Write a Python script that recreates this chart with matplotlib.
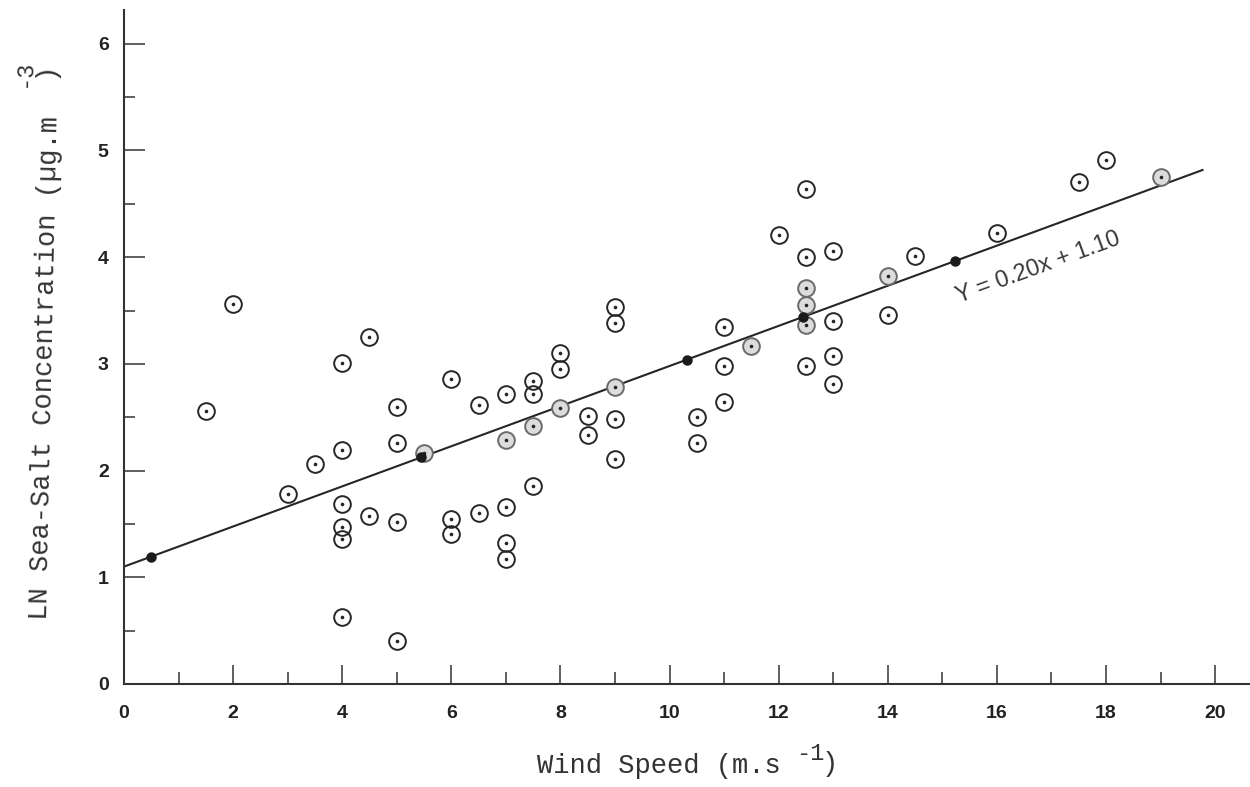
import numpy as np
import matplotlib.pyplot as plt

# wind speed (m/s) and LN sea-salt concentration
wind_open = [1.5, 2.0, 3.0, 3.5, 4.0, 4.0, 4.0, 4.0, 4.0, 4.0, 4.5, 4.5,
             5.0, 5.0, 5.0, 5.0, 6.0, 6.0, 6.0, 6.5, 6.5, 7.0, 7.0, 7.0, 7.0,
             7.5, 7.5, 7.5, 8.0, 8.0, 8.5, 8.5, 9.0, 9.0, 9.0, 9.0, 10.5, 10.5,
             11.0, 11.0, 11.0, 12.0, 12.5, 12.5, 12.5, 13.0, 13.0, 13.0, 13.0,
             14.0, 14.5, 16.0, 17.5, 18.0]
conc_open = [2.56, 3.56, 1.78, 2.06, 3.01, 2.19, 1.69, 1.47, 1.36, 0.63, 3.25, 1.57,
             2.60, 2.26, 1.52, 0.40, 2.86, 1.55, 1.41, 2.61, 1.60, 2.72, 1.66, 1.32, 1.17,
             2.84, 2.72, 1.86, 3.10, 2.95, 2.51, 2.33, 3.53, 3.38, 2.48, 2.11, 2.50, 2.26,
             3.35, 2.98, 2.64, 4.21, 4.64, 4.00, 2.98, 4.06, 3.40, 3.07, 2.81,
             3.46, 4.01, 4.23, 4.70, 4.91]

# circles that sit on the regression line (greyed in the scan)
wind_shaded = [5.5, 7.0, 7.5, 8.0, 9.0, 11.5, 12.5, 12.5, 12.5, 14.0, 19.0]
conc_shaded = [2.16, 2.29, 2.42, 2.59, 2.78, 3.17, 3.71, 3.55, 3.36, 3.82, 4.75]

# filled dots along the fitted line
wind_fit = [0.5, 5.45, 10.32, 12.45, 15.24]
conc_fit = [1.19, 2.13, 3.04, 3.44, 3.96]

# drawn regression line
slope, intercept = 0.188, 1.10
line_x = [0.0, 19.77]

fig = plt.figure(figsize=(12.5, 7.87), dpi=100)
ax = fig.add_axes([0.0992, 0.1309, 0.9008, 0.8569])

lx = np.array(line_x)
ax.plot(lx, intercept + slope * lx, color="#262626", lw=1.5, zorder=2)

ax.plot(wind_shaded, conc_shaded, "o", ms=12, mfc="#dcdcdc", mec="#6a6a6a",
        mew=1.4, zorder=3)
ax.plot(wind_open, conc_open, "o", ms=12, mfc="none", mec="#262626",
        mew=1.4, zorder=3)
ax.plot(wind_open + wind_shaded, conc_open + conc_shaded, "o", ms=1.6,
        color="#262626", zorder=4)
ax.plot(wind_fit, conc_fit, "o", ms=6.5, color="#1a1a1a", zorder=5)

ax.set_xlim(0, 20.64)
ax.set_ylim(0, 6.32)
for side in ["top", "right"]:
    ax.spines[side].set_visible(False)
for side in ["left", "bottom"]:
    ax.spines[side].set_linewidth(1.5)
    ax.spines[side].set_color("#333333")

ax.set_xticks(np.arange(0, 21, 2))
ax.set_xticks(np.arange(1, 20, 2), minor=True)
ax.set_yticks(np.arange(0, 7, 1))
ax.set_yticks(np.arange(0.5, 6.5, 1), minor=True)
ax.tick_params(axis="x", which="major", direction="in", length=14, width=1.1,
               pad=15, color="#333333")
ax.tick_params(axis="x", which="minor", direction="in", length=8.5, width=1.1,
               color="#333333")
ax.tick_params(axis="y", which="major", direction="in", length=15, width=1.1,
               pad=11, color="#333333")
ax.tick_params(axis="y", which="minor", direction="in", length=8, width=1.1,
               color="#333333")
for lab in ax.get_xticklabels() + ax.get_yticklabels():
    lab.set_fontfamily("Liberation Sans")
    lab.set_fontweight("bold")
    lab.set_fontsize(14)
    lab.set_color("#222222")

ax.text(16.75, 3.90, "Y = 0.20x + 1.10", rotation=20, ha="center", va="center",
        family="Liberation Sans", fontsize=17, color="#3a3a3a",
        rotation_mode="anchor")

mono = dict(family="Liberation Mono", color="#333333")
W, H = 1250.0, 787.0
fig.text(658.5 / W, 1 - 773 / H, "Wind Speed (m.s", ha="center", va="baseline",
         fontsize=19.5, **mono)
fig.text(810 / W, 1 - 753 / H, "-1", ha="center", va="center", fontsize=17, **mono)
fig.text(830 / W, 1 - 764 / H, ")", ha="center", va="center", fontsize=19.5, **mono)

fig.text(52 / W, 1 - 368 / H, "LN Sea-Salt Concentration (µg.m", rotation=88.8,
         rotation_mode="anchor", ha="center", va="baseline", fontsize=19.5, **mono)
fig.text(24 / W, 1 - 74 / H, "-3", rotation=88.8, ha="center", va="center",
         fontsize=17, **mono)
fig.text(45 / W, 1 - 70 / H, ")", rotation=88.8, ha="center", va="center",
         fontsize=19.5, **mono)

fig.savefig("out.png", dpi=100, facecolor="white")
